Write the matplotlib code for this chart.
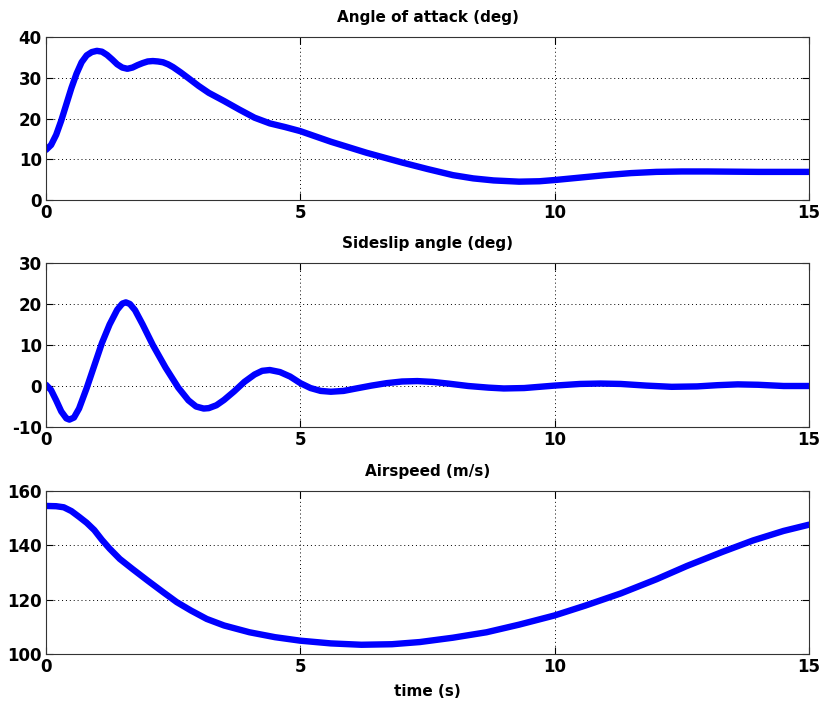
import matplotlib
matplotlib.use("Agg")
import matplotlib.pyplot as plt

# angle of attack (deg)
t_alpha = [0, 0.1, 0.2, 0.3, 0.4, 0.5, 0.6, 0.7, 0.8, 0.9, 1.0, 1.1, 1.2, 1.3, 1.4, 1.5, 1.6, 1.7,
           1.8, 1.9, 2.0, 2.1, 2.2, 2.3, 2.4, 2.5, 2.65, 2.8, 3.0, 3.2, 3.5, 3.8, 4.1, 4.4, 4.7,
           5.0, 5.6, 6.3, 7.0, 7.5, 8.0, 8.4, 8.8, 9.3, 9.7, 10.0, 10.5, 11.0, 11.5, 12.0, 12.5,
           13.0, 14.0, 15.0]
alpha = [12.3, 13.5, 16.0, 19.5, 23.5, 27.5, 31.0, 33.8, 35.5, 36.3, 36.6, 36.4, 35.6, 34.5, 33.3, 32.5, 32.2, 32.5,
         33.1, 33.6, 34.0, 34.1, 34.0, 33.8, 33.3, 32.6, 31.3, 29.9, 28.0, 26.3, 24.3, 22.2, 20.2, 18.8, 17.9,
         16.9, 14.3, 11.6, 9.2, 7.6, 6.1, 5.3, 4.8, 4.5, 4.6, 4.9, 5.5, 6.1, 6.6, 6.9, 7.0,
         7.0, 6.9, 6.9]

# sideslip angle (deg)
t_beta = [0, 0.1, 0.2, 0.3, 0.4, 0.46, 0.55, 0.65, 0.8, 0.95, 1.1, 1.25, 1.4, 1.5, 1.57, 1.65, 1.75,
          1.9, 2.1, 2.35, 2.6, 2.8, 2.95, 3.1, 3.2, 3.35, 3.5, 3.7, 3.9, 4.1, 4.25, 4.4, 4.6, 4.8,
          5.0, 5.2, 5.4, 5.6, 5.85, 6.1, 6.4, 6.7, 7.0, 7.3, 7.6, 7.9, 8.3, 8.7, 9.0, 9.4, 9.7,
          10.0, 10.5, 10.9, 11.3, 11.8, 12.3, 12.8, 13.2, 13.6, 14.0, 14.5, 15.0]
beta = [0.3, -1.0, -3.5, -6.2, -7.9, -8.2, -7.7, -5.5, -0.5, 5.0, 10.5, 15.0, 18.6, 20.1, 20.4, 20.0, 18.5,
        15.0, 10.0, 4.5, -0.4, -3.5, -5.0, -5.5, -5.4, -4.7, -3.4, -1.3, 1.0, 2.8, 3.7, 3.9, 3.4, 2.3,
        0.7, -0.5, -1.2, -1.4, -1.2, -0.6, 0.1, 0.7, 1.1, 1.2, 1.0, 0.6, 0.0, -0.4, -0.6, -0.5, -0.2,
        0.1, 0.5, 0.6, 0.5, 0.1, -0.2, -0.1, 0.2, 0.4, 0.3, 0.0, 0.0]

# airspeed (m/s)
t_v = [0, 0.2, 0.35, 0.5, 0.65, 0.8, 0.95, 1.1, 1.25, 1.45, 1.7, 2.0, 2.3, 2.57, 2.85, 3.16, 3.5,
       4.0, 4.5, 5.0, 5.6, 6.2, 6.8, 7.35, 8.0, 8.66, 9.3, 10.0, 10.6, 11.3, 12.0, 12.6, 13.3,
       13.9, 14.5, 15.0]
vel = [154.5, 154.4, 154.0, 152.6, 150.5, 148.3, 145.6, 142.0, 138.8, 135.0, 131.3, 127.0, 122.8, 119.1, 116.0, 112.9, 110.5,
       108.0, 106.2, 104.9, 103.9, 103.4, 103.6, 104.4, 106.0, 108.0, 110.8, 114.2, 117.8, 122.3, 127.5, 132.4, 137.6,
       141.8, 145.3, 147.6]

BLUE = "#0000ff"

plt.rcParams["font.family"] = "DejaVu Sans"
plt.rcParams["font.weight"] = "bold"
plt.rcParams["axes.unicode_minus"] = False

fig = plt.figure(figsize=(8.21, 7.01), dpi=100)
L, W = 46 / 821, 763 / 821
boxes = [(200, 163), (427, 164), (654, 163)]
panels = [
    (t_alpha, alpha, "Angle of attack (deg)", (0, 40), [0, 10, 20, 30, 40]),
    (t_beta, beta, "Sideslip angle (deg)", (-10, 30), [-10, 0, 10, 20, 30]),
    (t_v, vel, "Airspeed (m/s)", (100, 160), [100, 120, 140, 160]),
]

axes = []
for (bot, h), (t, y, title, ylim, yt) in zip(boxes, panels):
    ax = fig.add_axes([L, 1 - bot / 701, W, h / 701])
    ax.plot(t, y, color=BLUE, lw=4.6, solid_joinstyle="round", solid_capstyle="round")
    ax.set_xlim(0, 15)
    ax.set_ylim(*ylim)
    ax.set_xticks([0, 5, 10, 15])
    ax.set_yticks(yt)
    ax.grid(True, color="black", ls=(0, (1, 3)), lw=0.7)
    ax.tick_params(direction="in", top=True, right=True, length=5, width=0.8,
                   labelsize=12, pad=3)
    for lbl in ax.get_xticklabels() + ax.get_yticklabels():
        lbl.set_fontweight("bold")
    for s in ax.spines.values():
        s.set_linewidth(0.8)
        s.set_color("#333333")
    ax.set_title(title, fontsize=11, fontweight="bold", pad=11)
    axes.append(ax)

axes[-1].set_xlabel("time (s)", fontsize=11, fontweight="bold", labelpad=6)

fig.savefig("out.png", dpi=100)
